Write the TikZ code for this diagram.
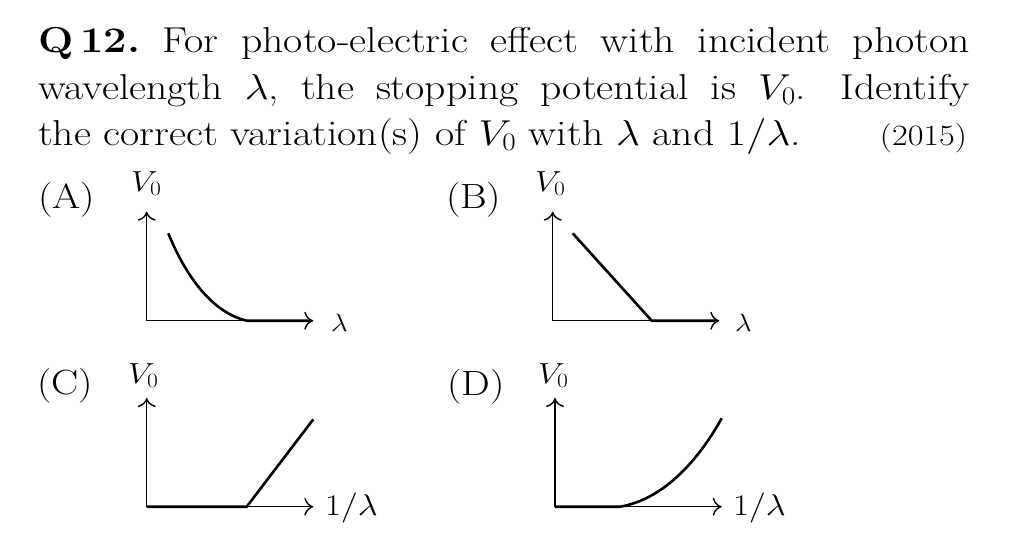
\RequirePackage{fix-cm}
\documentclass[tikz,border=0pt]{standalone}
\usepackage{graphicx}
\usetikzlibrary{arrows.meta}
\frenchspacing
\newcommand\hs[1]{\scalebox{1.16}[1]{#1}}
\newcommand\mainsz{\fontsize{36}{46}\selectfont}
\newcommand\yearsz{\fontsize{29.5}{34}\selectfont}
\newcommand\optsz{\fontsize{35}{40}\selectfont}
\newcommand\vsz{\fontsize{29}{32}\selectfont}
\newcommand\lsz{\fontsize{25}{30}\selectfont}
\newcommand\isz{\fontsize{30}{34}\selectfont}
\tikzset{
  txt/.style={inner sep=0pt, outer sep=0pt, anchor=base west},
  axes/.style={line width=1.4pt, {Computer Modern Rightarrow[length=9pt,width=18pt]}-{Computer Modern Rightarrow[length=9pt,width=18pt]}},
  graphline/.style={line width=2.6pt, line cap=butt},
}
\begin{document}
\begin{tikzpicture}[x=1pt,y=-1pt]
\useasboundingbox (0,0) rectangle (1014,549);
% question text
\node[txt] (l1) at (38,52) {\mainsz\hs{\makebox[803.4pt][s]{\textbf{Q\,12.} For photo-electric effect with incident photon}}};
\node[txt] (l2) at (38,99) {\mainsz\hs{\makebox[803.4pt][s]{wavelength $\lambda$, the stopping potential is $V_0$.\hspace{0.3em} Identify}}};
\node[txt] (l3) at (38,145) {\mainsz\hs{the correct variation(s) of $V_0$ with $\lambda$ and $1/\lambda$.}};
\node[txt, anchor=base east] (yr) at (967,145) {\yearsz\hs{(2015)}};
% (A)
\node[txt] (La) at (38,208) {\optsz\hs{(A)}};
\coordinate (Ao) at (146.7,320.7);
\coordinate (Ay) at (146.7,211.7);
\coordinate (Ax) at (313.3,320.7);
\draw[axes] (Ay) -- (Ao) -- (Ax);
\coordinate (Aa) at (168.3,233.3);
\coordinate (Ab) at (246.7,320.7);
\coordinate (Ae) at (309,320.7);
\draw[graphline] (Aa) .. controls (184,272) and (210,312) .. (Ab) -- (Ae);
\node[txt] (Va) at (131,191) {\vsz\hs{$V_0$}};
\node[txt] (Xa) at (331,331) {\lsz\hs{$\lambda$}};
% (B)
\node[txt] (Lb) at (446,208) {\optsz\hs{(B)}};
\coordinate (Bo) at (552.7,320.7);
\coordinate (By) at (552.7,211.7);
\coordinate (Bx) at (719.3,320.7);
\draw[axes] (By) -- (Bo) -- (Bx);
\coordinate (Ba) at (572.7,233.3);
\coordinate (Bb) at (651.7,320.7);
\coordinate (Be) at (715,320.7);
\draw[graphline] (Ba) -- (Bb) -- (Be);
\node[txt] (Vb) at (535,191) {\vsz\hs{$V_0$}};
\node[txt] (Xb) at (735,331) {\lsz\hs{$\lambda$}};
% (C)
\node[txt] (Lc) at (37,394) {\optsz\hs{(C)}};
\coordinate (Co) at (146.7,506.7);
\coordinate (Cy) at (146.7,398);
\coordinate (Cx) at (313.3,506.7);
\draw[axes] (Cy) -- (Co) -- (Cx);
\coordinate (Ca) at (313.3,419.3);
\coordinate (Cb) at (246.7,506.7);
\draw[graphline] (Co) -- (Cb) -- (Ca);
\node[txt] (Vc) at (128,383) {\vsz\hs{$V_0$}};
\node[txt] (Xc) at (325,515) {\isz\hs{$1/\lambda$}};
% (D)
\node[txt] (Ld) at (447,395) {\optsz\hs{(D)}};
\coordinate (Do) at (555,506.7);
\coordinate (Dy) at (555,398);
\coordinate (Dx) at (721.7,506.7);
\draw[axes] (Dy) -- (Do) -- (Dx);
\coordinate (Da) at (721.7,418.3);
\coordinate (Db) at (620,506.7);
\draw[graphline] (Do) -- (Db) .. controls (660,500) and (695,466) .. (Da);
\node[txt] (Vd) at (538,383) {\vsz\hs{$V_0$}};
\node[txt] (Xd) at (733,515) {\isz\hs{$1/\lambda$}};
\end{tikzpicture}
\end{document}
